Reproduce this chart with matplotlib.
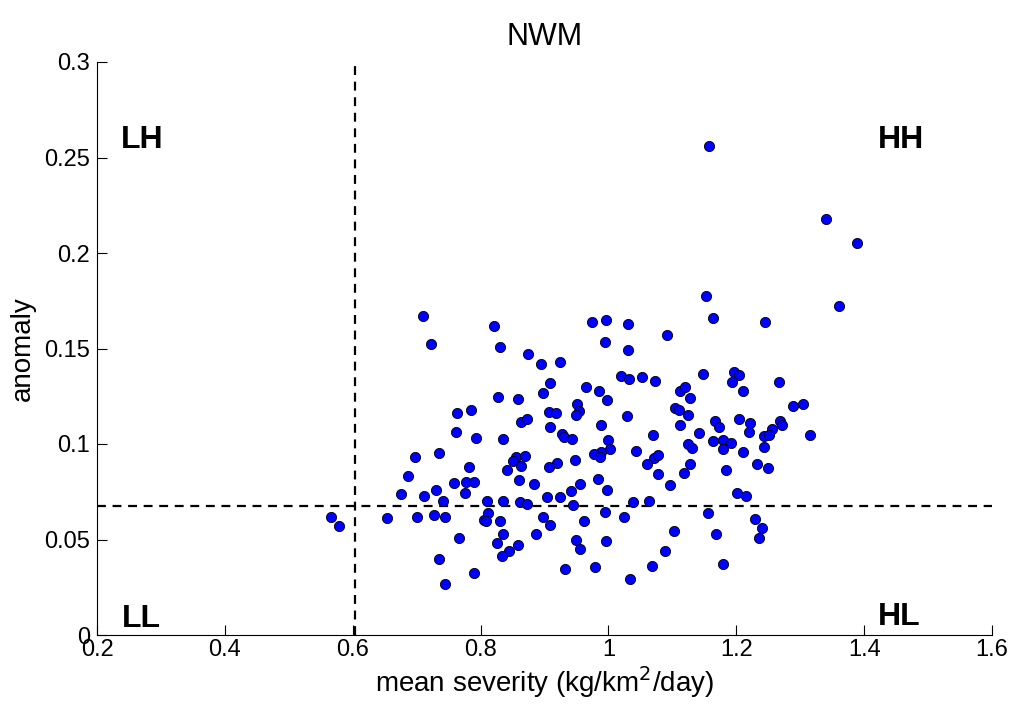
import matplotlib
matplotlib.use("Agg")
import matplotlib.pyplot as plt

plt.rcParams['font.family'] = ['Liberation Sans', 'DejaVu Sans']

title = "NWM"
x_label = "mean severity (kg/km$^2$/day)"
y_label = "anomaly"

severity = [
    1.157, 1.341, 1.389, 1.360, 1.153,
    0.710, 0.974, 0.996, 1.031, 1.164, 1.245, 0.821,
    0.722, 0.830, 0.995, 1.031, 1.091, 0.874, 0.895, 0.924,
    1.019, 1.032, 1.052, 1.073, 1.148, 1.196, 1.204, 1.194, 1.210, 1.267,
    0.909, 0.898, 0.965, 0.986, 0.998, 1.112, 1.119, 1.128, 0.828, 0.858,
    1.288, 1.305, 0.785, 0.763, 0.907, 0.918, 0.951, 0.954, 0.949, 1.029,
    1.104, 1.111, 1.124, 1.112, 0.863, 0.872, 0.909, 0.989, 1.167, 1.173,
    1.204, 1.222, 1.268, 1.272, 1.256, 1.316,
    0.762, 0.793, 0.835, 0.927, 0.930, 0.943, 1.070, 1.000, 1.141, 1.220,
    1.244, 1.251, 1.164, 1.179, 1.192, 1.124, 1.131, 1.180, 1.210, 1.243,
    1.002, 0.989, 0.977, 0.987, 1.043, 0.735, 0.698,
    0.856, 0.870, 0.851, 0.863, 0.782, 0.920, 0.907, 0.947, 1.071, 1.078,
    1.060, 1.128, 1.232, 1.249, 0.842, 1.078, 1.118, 1.184, 0.686, 0.860,
    0.983, 0.759, 0.777, 0.789, 0.884, 0.955, 1.097,
    0.730, 0.776, 0.675, 0.712, 0.941, 0.998, 1.201, 1.215, 0.742, 0.810,
    0.835, 0.904, 0.925, 0.861, 0.872, 0.945, 1.039, 1.064,
    0.566, 0.578, 0.654, 0.701, 0.727, 0.745, 0.811, 0.805, 0.808, 0.830,
    0.897, 0.908, 0.962, 0.994, 1.025, 1.156, 1.230, 1.241, 1.235, 1.168,
    1.103, 0.766, 0.835, 0.886, 0.949, 0.996, 0.825, 0.858, 0.955, 0.845,
    0.833, 1.089, 0.735, 0.979, 1.068, 1.180, 0.932, 0.789, 1.034, 0.745,
]
anomaly = [
    0.256, 0.2178, 0.2052, 0.1724, 0.1775,
    0.167, 0.164, 0.165, 0.163, 0.166, 0.164, 0.162,
    0.1525, 0.151, 0.1536, 0.149, 0.157, 0.147, 0.142, 0.143,
    0.1356, 0.134, 0.135, 0.133, 0.1366, 0.1375, 0.136, 0.1326, 0.128, 0.1325,
    0.132, 0.1265, 0.130, 0.128, 0.123, 0.128, 0.1297, 0.124, 0.1244, 0.1236,
    0.120, 0.121, 0.118, 0.116, 0.1168, 0.1164, 0.1208, 0.1173, 0.1152, 0.1148,
    0.1187, 0.1178, 0.115, 0.110, 0.1115, 0.1133, 0.1087, 0.110, 0.1122, 0.1087,
    0.1133, 0.1108, 0.1122, 0.110, 0.108, 0.1047,
    0.1063, 0.1033, 0.1026, 0.1052, 0.1038, 0.1024, 0.1047, 0.102, 0.106, 0.1063,
    0.104, 0.1045, 0.1017, 0.102, 0.1007, 0.0998, 0.098, 0.0974, 0.096, 0.0984,
    0.0972, 0.096, 0.0948, 0.0934, 0.0965, 0.0953, 0.093,
    0.093, 0.0937, 0.091, 0.0887, 0.0881, 0.090, 0.0878, 0.0916, 0.0925, 0.094,
    0.0895, 0.0895, 0.0895, 0.0873, 0.0864, 0.0845, 0.085, 0.0862, 0.0832, 0.0812,
    0.0815, 0.0798, 0.0803, 0.0803, 0.0792, 0.0792, 0.0784,
    0.0759, 0.0745, 0.0736, 0.073, 0.0752, 0.0759, 0.0742, 0.073, 0.0702, 0.0702,
    0.0702, 0.072, 0.072, 0.0695, 0.0684, 0.068, 0.0695, 0.0703,
    0.0616, 0.0571, 0.0611, 0.0616, 0.063, 0.062, 0.064, 0.0602, 0.0595, 0.0597,
    0.062, 0.0574, 0.0599, 0.0646, 0.062, 0.064, 0.0606, 0.056, 0.0506, 0.053,
    0.0546, 0.051, 0.0527, 0.0527, 0.050, 0.0494, 0.048, 0.0471, 0.0452, 0.0442,
    0.0414, 0.0438, 0.040, 0.0358, 0.0361, 0.0372, 0.0344, 0.0323, 0.0291, 0.0267,
]

x_threshold = 0.6035
y_threshold = 0.0675

x_ticks = [0.2, 0.4, 0.6, 0.8, 1.0, 1.2, 1.4, 1.6]
x_ticklabels = ["0.2", "0.4", "0.6", "0.8", "1", "1.2", "1.4", "1.6"]
y_ticks = [0, 0.05, 0.1, 0.15, 0.2, 0.25, 0.3]
y_ticklabels = ["0", "0.05", "0.1", "0.15", "0.2", "0.25", "0.3"]

quadrants = ["LH", "HH", "LL", "HL"]
quad_pos = [(0.2704, 0.259), (1.4576, 0.259), (0.2688, 0.0085), (1.4545, 0.0095)]

fig = plt.figure(figsize=(10.19, 7.08), dpi=100)
ax = fig.add_axes([97/1019, 1 - 635/708, (992-97)/1019, (635-62)/708])

ax.scatter(severity, anomaly, s=54, c='#0000ff', edgecolors='black',
           linewidths=0.6, zorder=3)

ax.plot([x_threshold, x_threshold], [0, 0.3], color='black', ls=(0, (4, 3)), lw=1.6, zorder=2)
ax.plot([0.2, 1.6], [y_threshold, y_threshold], color='black', ls=(0, (4, 3)), lw=1.6, zorder=2)

for lab, (qx, qy) in zip(quadrants, quad_pos):
    ax.text(qx, qy, lab, fontsize=23, fontweight='bold', ha='center', va='center')

ax.set_xlim(0.2, 1.6)
ax.set_ylim(0, 0.3)
ax.set_xticks(x_ticks)
ax.set_xticklabels(x_ticklabels)
ax.set_yticks(y_ticks)
ax.set_yticklabels(y_ticklabels)
ax.tick_params(direction='in', labelsize=17, length=7, width=0.8, top=False, right=False)
ax.tick_params(axis='x', pad=3)
ax.tick_params(axis='y', pad=5)
ax.spines['top'].set_visible(False)
ax.spines['right'].set_visible(False)
ax.spines['left'].set_linewidth(0.8)
ax.spines['bottom'].set_linewidth(0.8)

ax.set_xlabel(x_label, fontsize=20, labelpad=2)
ax.set_ylabel(y_label, fontsize=20, labelpad=6)
ax.set_title(title, fontsize=22, pad=12)

fig.savefig("out.png", dpi=100)
